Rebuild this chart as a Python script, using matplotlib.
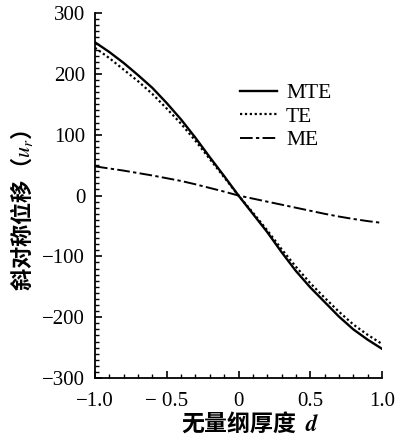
import matplotlib
matplotlib.use("Agg")
import matplotlib.pyplot as plt
from matplotlib.ticker import MultipleLocator, FixedLocator, FixedFormatter

plt.rcParams['font.family'] = ['Liberation Serif', 'Noto Sans CJK SC', 'DejaVu Sans']
plt.rcParams['mathtext.fontset'] = 'stix'

# ---- data ----
d = [-1.0, -0.9, -0.8, -0.7, -0.6, -0.5, -0.4, -0.3, -0.2, -0.1, 0.0,
     0.1, 0.2, 0.3, 0.4, 0.5, 0.6, 0.7, 0.8, 0.9, 1.0]
mte = [252, 236, 218, 198, 177, 152, 125, 95, 63, 32, 0,
       -30, -60, -93, -124, -151, -175, -199, -220, -237, -252]
te = [243, 226, 207, 188, 167, 143, 118, 90, 60, 30, 0,
      -28, -57, -88, -117, -144, -168, -191, -212, -229, -244]
me = [48, 44.5, 41, 37, 33, 28.5, 24, 18.5, 12.5, 6.5, 0,
      -5, -10, -15, -20, -25, -30, -34.5, -38.5, -42, -45]
series_labels = ["MTE", "TE", "ME"]
xticks = [-1.0, -0.5, 0.0, 0.5, 1.0]
xticklabels = ["\u22121.0", "\u2212 0.5", "0", "0.5", "1.0"]
yticks = [-300, -200, -100, 0, 100, 200, 300]
yticklabels = ["\u2212300", "\u2212200", "\u2212100", "0", "100", "200", "300"]

fig = plt.figure(figsize=(3.98, 4.37), dpi=100)
ax = fig.add_axes([0.2387, 0.135, 0.9598 - 0.2387, 0.970 - 0.135])

ax.plot(d, mte, color='black', lw=1.7, ls='-', label=series_labels[0])
ax.plot(d, te, color='black', lw=1.6, ls=(0, (1, 1.2)), label=series_labels[1])
ax.plot(d, me, color='black', lw=1.4, ls=(0, (6.5, 1.7, 1.7, 1.7)), label=series_labels[2])

ax.set_xlim(-1.0, 1.0)
ax.set_ylim(-300, 300)
ax.xaxis.set_major_locator(FixedLocator(xticks))
ax.xaxis.set_major_formatter(FixedFormatter(xticklabels))
ax.yaxis.set_major_locator(FixedLocator(yticks))
ax.yaxis.set_major_formatter(FixedFormatter(yticklabels))
ax.xaxis.set_minor_locator(MultipleLocator(0.1))
ax.yaxis.set_minor_locator(MultipleLocator(10))

for s in ['top', 'right']:
    ax.spines[s].set_visible(False)
for s in ['left', 'bottom']:
    ax.spines[s].set_linewidth(1.3)

ax.tick_params(which='major', direction='in', length=5, width=1.2, labelsize=15)
ax.tick_params(which='minor', direction='in', length=3, width=1.0)
ax.tick_params(axis='x', which='major', pad=10)
ax.tick_params(axis='y', which='major', pad=7)

leg = ax.legend(loc='upper left', bbox_to_anchor=(0.505, 0.808), frameon=False,
                fontsize=15.5, handlelength=1.72, handletextpad=0.42, labelspacing=0.16,
                borderpad=0.0, borderaxespad=0.0)

ax.set_xlabel('无量纲厚度  $\\mathbfit{d}$', fontsize=16.5, fontweight='bold',
              family=['Noto Sans CJK SC', 'DejaVu Sans'])
ax.xaxis.set_label_coords(0.54, -0.086)
ax.set_ylabel('斜对称位移（$u_r$）', fontsize=16, fontweight='bold',
              family=['Noto Sans CJK SC', 'DejaVu Sans'])
ax.yaxis.set_label_coords(-0.21, 0.46)

fig.savefig('out.png', dpi=100)
